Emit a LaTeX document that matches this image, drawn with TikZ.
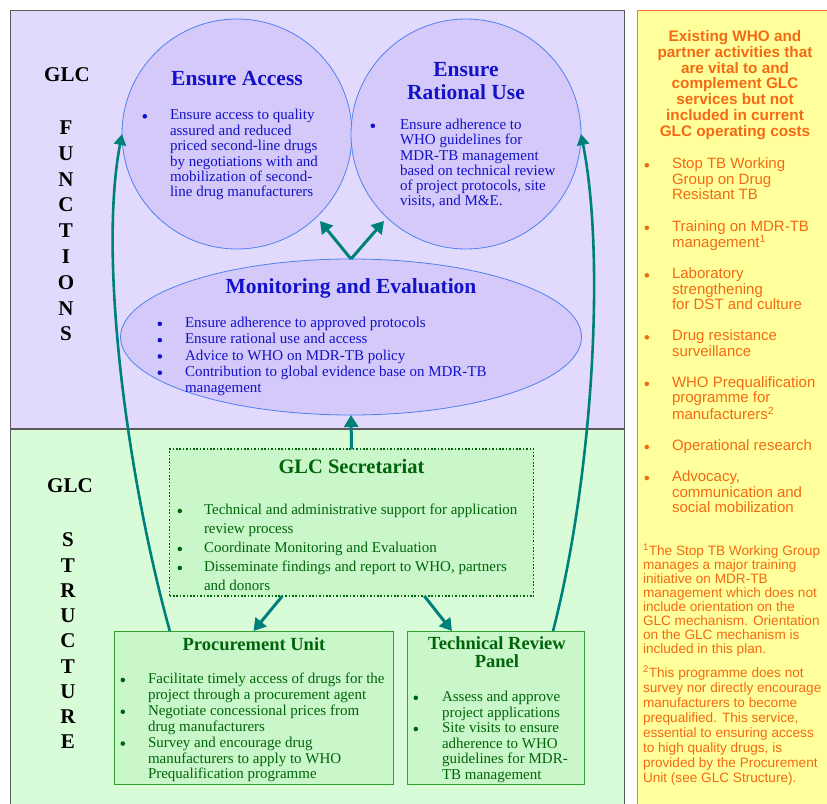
\documentclass[tikz,border=0pt]{standalone}
\usepackage{fontspec}
\setmainfont{Liberation Serif}
\newfontfamily\arialf{Liberation Sans}
\usetikzlibrary{arrows.meta,shapes.geometric,calc}
\definecolor{purplebg}{RGB}{226,218,252}
\definecolor{circfill}{RGB}{213,201,250}
\definecolor{circline}{RGB}{80,128,240}
\definecolor{bluetxt}{RGB}{18,18,200}
\definecolor{greenbg}{RGB}{216,252,216}
\definecolor{boxfill}{RGB}{202,247,202}
\definecolor{boxline}{RGB}{50,160,50}
\definecolor{greentxt}{RGB}{0,100,10}
\definecolor{tealc}{RGB}{0,128,122}
\definecolor{yellowbg}{RGB}{255,255,156}
\definecolor{orangetxt}{RGB}{245,105,20}
\definecolor{orangeline}{RGB}{240,128,48}
\definecolor{framec}{RGB}{90,90,90}
\newlength\bulw
\newcommand\blt{\makebox[\bulw][l]{\tikz[baseline=-3.6pt]\fill (2.3pt,0pt) circle[radius=2.3pt];}}
\newcommand\hng{\hspace*{\bulw}}
\begin{document}
\begin{tikzpicture}[x=1pt,y=-1pt,
  every node/.style={inner sep=0pt, outer sep=0pt},
  circ/.style={circle, draw=circline, line width=0.8pt, fill=circfill, minimum size=230pt},
  ttl/.style={font=\bfseries\fontsize{21.5}{22.5}\selectfont, text=bluetxt, align=center},
  gttl/.style={font=\bfseries\fontsize{18.5}{18.5}\selectfont, text=greentxt, align=center},
  body/.style={anchor=north west, align=left, text=bluetxt},
  gbody/.style={anchor=north west, align=left, text=greentxt},
  gbox/.style={draw=boxline, line width=0.8pt, fill=boxfill},
  lbl/.style={font=\bfseries\fontsize{21}{25.8}\selectfont, align=center},
  arr/.style={draw=tealc, line width=3pt, -{Triangle[length=12pt,width=14pt]}},
  arrc/.style={draw=tealc, line width=2.6pt, -{Triangle[length=11pt,width=12pt]}},
  ytxt/.style={text=orangetxt, align=left, anchor=north west}
]
\useasboundingbox (0,0) rectangle (827,803);
% backgrounds
\fill[purplebg] (10,10) rectangle (624,429);
\fill[greenbg] (10,429) rectangle (624,806);
\draw[framec, line width=0.9pt] (10,10) rectangle (624,806);
\draw[framec, line width=1.5pt] (10,429) -- (624,429);
\fill[yellowbg] (637,10) rectangle (830,806);
\draw[orangeline, line width=0.9pt] (830,10) -- (637,10) -- (637,806);

% side labels
\node[lbl] (glcf) at (67,75) {GLC};
\node[lbl] (funcs) at (66,231) {F\\U\\N\\C\\T\\I\\O\\N\\S};
\node[lbl] (glcs) at (70,486) {GLC};
\node[lbl, font=\bfseries\fontsize{21}{25.25}\selectfont] (struct) at (68,641) {S\\T\\R\\U\\C\\T\\U\\R\\E};

% function shapes
\node[circ] (ea) at (237,134) {};
\node[circ] (eru) at (466,134) {};
\node[ellipse, draw=circline, line width=0.8pt, fill=circfill, minimum width=461pt, minimum height=156pt] (me) at (351,337) {};

\node[ttl] (eat) at (237,79) {Ensure Access};
\node[body, font=\fontsize{15}{15.4}\selectfont\setlength\bulw{27.5pt}] (eab) at (142.5,109.5) {%
\blt Ensure access to quality\\
\hng assured and reduced\\
\hng priced second-line drugs\\
\hng by negotiations with and\\
\hng mobilization of second-\\
\hng line drug manufacturers};

\node[ttl] (erut) at (466,81) {Ensure\\Rational Use};
\node[body, font=\fontsize{15}{15.3}\selectfont\setlength\bulw{29.5pt}] (erub) at (370.5,119) {%
\blt Ensure adherence to\\
\hng WHO guidelines for\\
\hng MDR-TB management\\
\hng based on technical review\\
\hng of project protocols, site\\
\hng visits, and M\&E.};

\node[ttl] (met) at (351,288) {Monitoring and Evaluation};
\node[body, font=\fontsize{15}{16.3}\selectfont\setlength\bulw{27.5pt}] (meb) at (157.5,317) {%
\blt Ensure adherence to approved protocols\\
\blt Ensure rational use and access\\
\blt Advice to WHO on MDR-TB policy\\
\blt Contribution to global evidence base on MDR-TB\\
\hng management};

% structure shapes
\node[draw=greentxt, fill=boxfill, line width=1.6pt, dash pattern=on 1.6pt off 1.8pt, minimum width=364pt, minimum height=147pt] (sec) at (351.5,522.5) {};
\node[gttl, font=\bfseries\fontsize{20.5}{20.5}\selectfont] (sect) at (351.5,466) {GLC Secretariat};
\node[gbody, font=\fontsize{15}{19}\selectfont\setlength\bulw{26.5pt}] (secb) at (177.5,504) {%
\blt Technical and administrative support for application\\
\hng review process\\
\blt Coordinate Monitoring and Evaluation\\
\blt Disseminate findings and report to WHO, partners\\
\hng and donors};

\node[gbox, minimum width=279pt, minimum height=153pt] (proc) at (253.5,707.5) {};
\node[gttl] (proct) at (254,644) {Procurement Unit};
\node[gbody, font=\fontsize{15}{15.9}\selectfont\setlength\bulw{27.5pt}] (procb) at (120.5,673) {%
\blt Facilitate timely access of drugs for the\\
\hng project through a procurement agent\\
\blt Negotiate concessional prices from\\
\hng drug manufacturers\\
\blt Survey and encourage drug\\
\hng manufacturers to apply to WHO\\
\hng Prequalification programme};

\node[gbox, minimum width=177pt, minimum height=153pt] (trp) at (495.5,707.5) {};
\node[gttl] (trpt) at (497,652) {Technical Review\\Panel};
\node[gbody, font=\fontsize{15}{15.6}\selectfont\setlength\bulw{28.5pt}] (trpb) at (413.5,691) {%
\blt Assess and approve\\
\hng project applications\\
\blt Site visits to ensure\\
\hng adherence to WHO\\
\hng guidelines for MDR-\\
\hng TB management};

% connectors
\coordinate (vl) at (320,221);
\coordinate (vr) at (384,221);
\draw[arr] (me.north) -- (vl);
\draw[arr] (me.north) -- (vr);
\draw[arr] (sec.north) -- (me.south);
\draw[arr] ($(sec.south west)!0.31!(sec.south east)$) -- (proc.north);
\draw[arr] ($(sec.south west)!0.70!(sec.south east)$) -- ($(trp.north west)!0.254!(trp.north east)$);
\draw[arrc] ($(proc.north west)!0.2!(proc.north east)$) .. controls (128,480) and (98,260) .. (ea.west);
\draw[arrc] ($(trp.north west)!0.825!(trp.north east)$) .. controls (592,480) and (606,260) .. (eru.east);

% yellow panel
\node[text=orangetxt, align=center, font=\arialf\bfseries\fontsize{15.3}{15.7}\selectfont] (yhead) at (735,85) {Existing WHO and\\partner activities that\\are vital to and\\complement GLC\\services but not\\included in current\\GLC operating costs};
\node[ytxt, font=\arialf\fontsize{15}{15.5}\selectfont\setlength\bulw{27.5pt}] (ylist) at (644.5,158) {%
\blt Stop TB Working\\
\hng Group on Drug\\
\hng Resistant TB\\[16pt]
\blt Training on MDR-TB\\
\hng management\textsuperscript{1}\\[15.5pt]
\blt Laboratory\\
\hng strengthening\\
\hng for DST and culture\\[15.5pt]
\blt Drug resistance\\
\hng surveillance\\[15.5pt]
\blt WHO Prequalification\\
\hng programme for\\
\hng manufacturers\textsuperscript{2}\\[15.5pt]
\blt Operational research\\[15.5pt]
\blt Advocacy,\\
\hng communication and\\
\hng social mobilization};
\node[ytxt, font=\arialf\fontsize{13.6}{14}\selectfont] (fn1) at (643,544) {%
\textsuperscript{1}The Stop TB Working Group\\
manages a major training\\
initiative on MDR-TB\\
management which does not\\
include orientation on the\\
GLC mechanism. Orientation\\
on the GLC mechanism is\\
included in this plan.};
\node[ytxt, font=\arialf\fontsize{13.6}{15}\selectfont] (fn2) at (643,666) {%
\textsuperscript{2}This programme does not\\
survey nor directly encourage\\
manufacturers to become\\
prequalified. This service,\\
essential to ensuring access\\
to high quality drugs, is\\
provided by the Procurement\\
Unit (see GLC Structure).};
\end{tikzpicture}
\end{document}
